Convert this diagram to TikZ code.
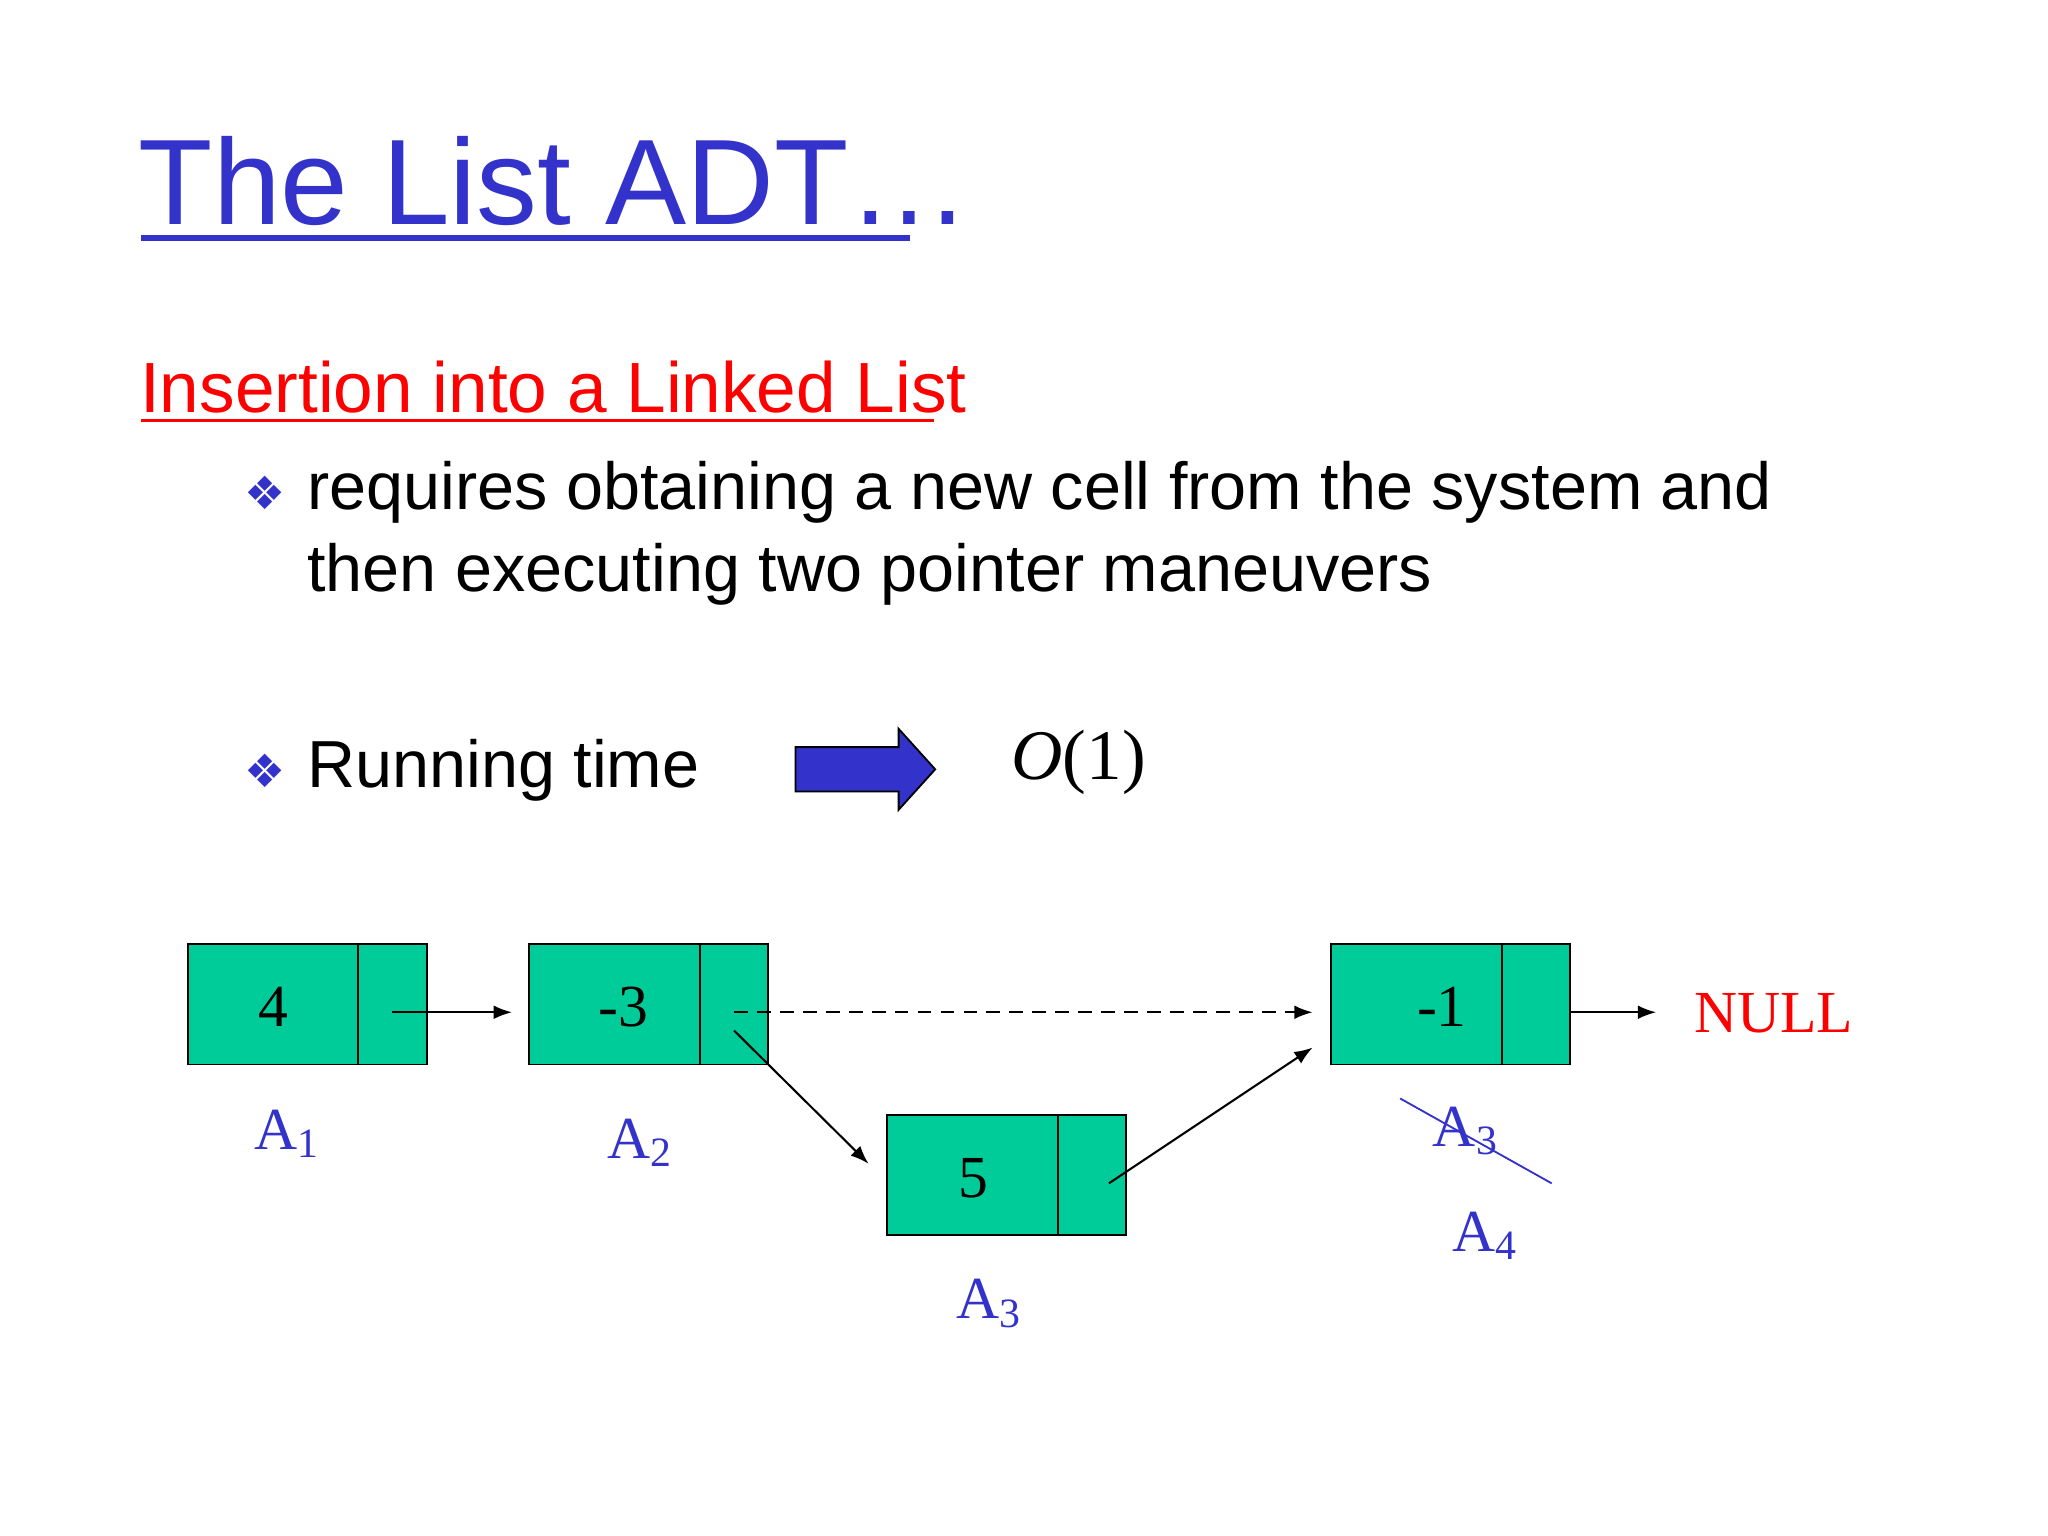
\documentclass[tikz,border=0pt]{standalone}
\usepackage{fontspec}
\setmainfont{Liberation Serif}
\setsansfont{Liberation Sans}
\newfontfamily\dejavu{DejaVu Sans}
\usetikzlibrary{arrows.meta}
\definecolor{tblue}{HTML}{3333CC}
\definecolor{cellg}{HTML}{00CC99}
\begin{document}
\begin{tikzpicture}[x=0.02cm,y=-0.02cm,
  cell/.style={draw=black,fill=cellg,minimum width=3.66cm,minimum height=1.84cm,inner sep=0,line width=0.8pt},
  val/.style={font=\fontsize{26}{30}\selectfont},
  lab/.style={font=\fontsize{26}{30}\selectfont,text=tblue},
  arr/.style={-{Latex[length=8pt,width=6pt]},line width=0.9pt},
  bul/.style={text=tblue,font=\dejavu\fontsize{20}{24}\selectfont}]
\useasboundingbox (0,0) rectangle (1568,1176);
\fill[white] (0,0) rectangle (1568,1176);
% title
\node[anchor=base west,inner sep=0,text=tblue,font=\sffamily\fontsize{53}{60}\selectfont] (title) at (106,172) {The List ADT\dots};
\draw[tblue,line width=2.5pt] (108,182) -- (697,182);
\node[anchor=base west,inner sep=0,text=red,font=\sffamily\fontsize{31}{36}\selectfont] (sub) at (107,316) {Insertion into a Linked List};
\draw[red,line width=1.5pt] (108,322) -- (715,322);
\node[bul] (b1) at (203,377) {❖};
\node[anchor=base west,inner sep=0,font=\sffamily\fontsize{29}{34}\selectfont] (t1) at (235,390) {requires obtaining a new cell from the system and};
\node[anchor=base west,inner sep=0,font=\sffamily\fontsize{29}{34}\selectfont] (t2) at (235,453) {then executing two pointer maneuvers};
\node[bul] (b2) at (203,590) {❖};
\node[anchor=base west,inner sep=0,font=\sffamily\fontsize{29}{34}\selectfont] (t3) at (235,603) {Running time};
\draw[fill=tblue,draw=black,line width=0.8pt] (609,572) -- (688,572) -- (688,558) -- (716,589) -- (688,620) -- (688,606) -- (609,606) -- cycle;
\node[anchor=base west,inner sep=0,font=\fontsize{31}{36}\selectfont] (o1) at (774,597) {\textit{O}(1)};
% cells
\node[cell] (c1) at (235.5,769) {};
\node[cell] (c2) at (496.5,769) {};
\node[cell] (c3) at (770.5,899.5) {};
\node[cell] (c4) at (1110.5,769) {};
\draw[line width=0.8pt] (274,723) -- (274,815);
\draw[line width=0.8pt] (536,723) -- (536,815);
\draw[line width=0.8pt] (810,854) -- (810,945);
\draw[line width=0.8pt] (1150,723) -- (1150,815);
\node[val] (v1) at (209,771) {4};
\node[val] (v2) at (477,771) {-3};
\node[val] (v3) at (745,902) {5};
\node[val] (v4) at (1104,771) {-1};
\node[lab] (l1) at (220,868) {A\textsubscript{1}};
\node[lab] (l2) at (490,875) {A\textsubscript{2}};
\node[lab] (l3) at (757,998) {A\textsubscript{3}};
\node[lab] (l4) at (1122,866) {A\textsubscript{3}};
\node[lab] (l5) at (1137,946) {A\textsubscript{4}};
\draw[tblue,line width=0.8pt] (1072,841) -- (1188,906);
\node[text=red,font=\fontsize{26}{30}\selectfont] (null) at (1358,776) {NULL};
% connectors
\coordinate (p1) at (300,775); \coordinate (q1) at (392,775);
\coordinate (p2) at (562,775); \coordinate (q2) at (1005,775);
\coordinate (p3) at (562,789); \coordinate (q3) at (665,891);
\coordinate (p4) at (849,906); \coordinate (q4) at (1005,802);
\coordinate (p5) at (1202,775); \coordinate (q5) at (1268,775);
\draw[arr] (p1) -- (q1);
\draw[arr,dashed,dash pattern=on 6pt off 4pt] (p2) -- (q2);
\draw[arr] (p3) -- (q3);
\draw[arr] (p4) -- (q4);
\draw[arr] (p5) -- (q5);
\end{tikzpicture}
\end{document}
